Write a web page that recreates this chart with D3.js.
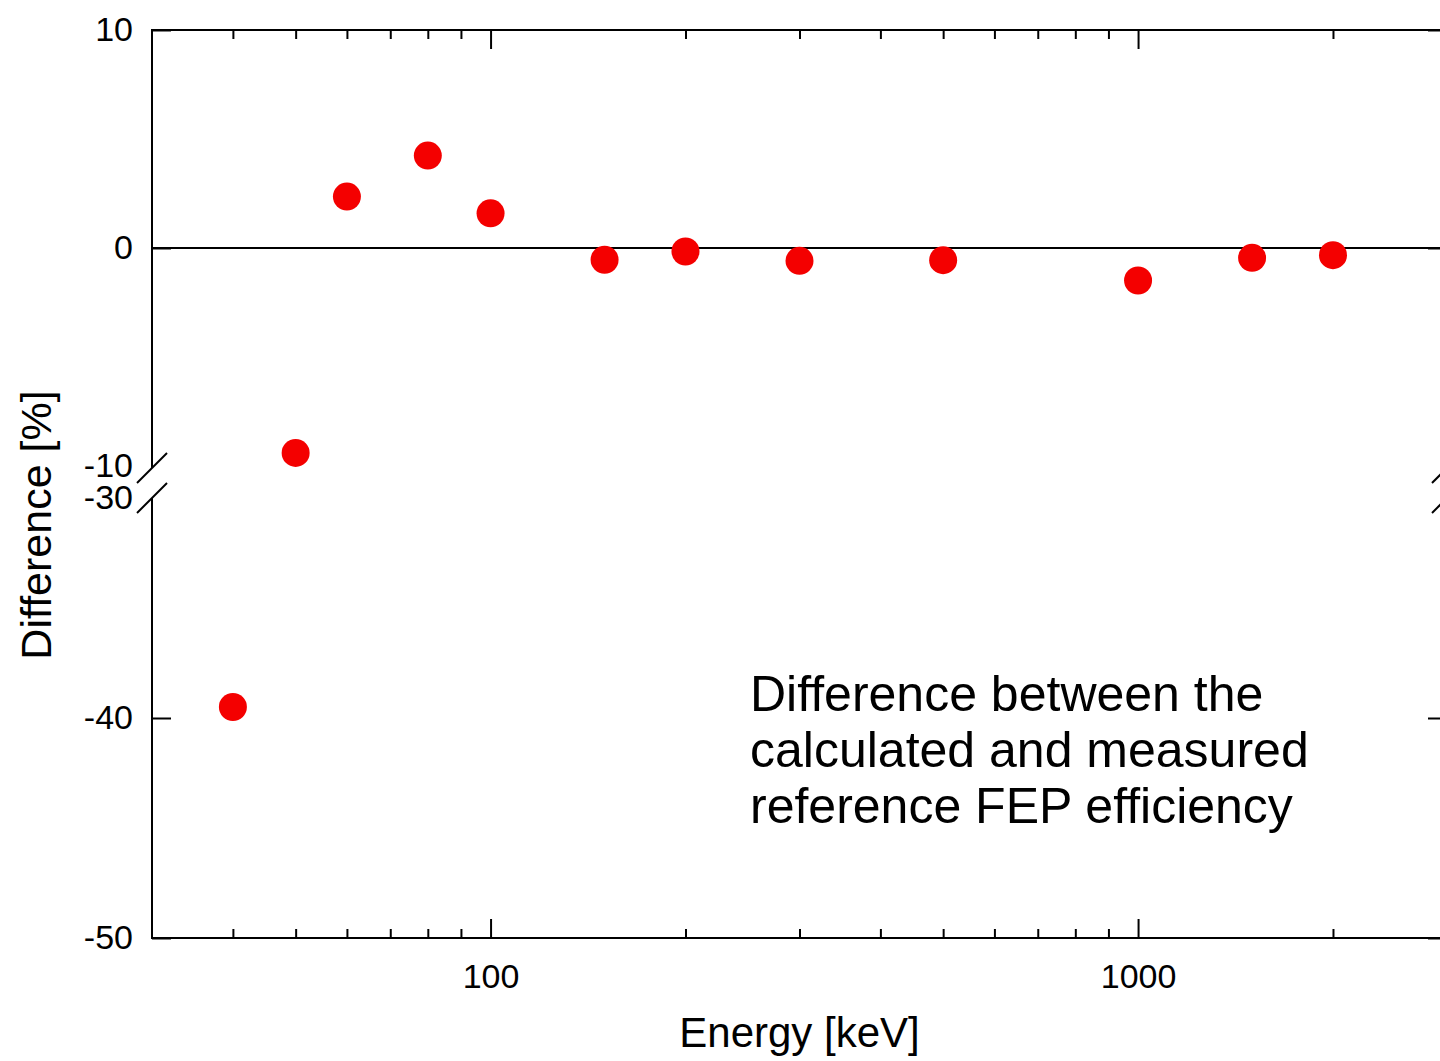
<!DOCTYPE html>
<html>
<head>
<meta charset="utf-8">
<script src="https://cdn.jsdelivr.net/npm/d3@7"></script>
<style>
  body { margin: 0; background: #fff; overflow: hidden; }
  svg { display: block; font-family: "Liberation Sans", Arial, sans-serif; }
  .axis text { fill: #000; }
  .axis line { stroke: #000; stroke-width: 2; }
</style>
</head>
<body>
<script>
// data
var energy = [40, 50, 60, 80, 100, 150, 200, 300, 500, 1000, 1500, 2000];
var difference = [-39.5, -9.4, 2.36, 4.24, 1.59, -0.54, -0.16, -0.59, -0.56, -1.49, -0.45, -0.33];
var upperTicks = [10, 0, -10];
var lowerTicks = [-30, -40, -50];
var majorX = [100, 1000];
var annotation = ['Difference between the', 'calculated and measured', 'reference FEP efficiency'];

(function () {
    var W = 1440, H = 1061;
    var pLeft = 152, pRight = 1447, pTop = 30, pBottom = 938;
    var breakHi = 468, breakLo = 498;
    var fmt = function (d) { return String(d); };

    var svg = d3.select('body').append('svg')
        .attr('width', W)
        .attr('height', H);

    var x = d3.scaleLog().domain([30, 3000]).range([pLeft, pRight]);
    var yUp = d3.scaleLinear().domain([-10, 10]).range([466, pTop]);
    var yLow = d3.scaleLinear().domain([-50, -30]).range([pBottom, breakLo]);

    var minorX = x.ticks().filter(function (t) {
        return majorX.indexOf(t) < 0 && t > 30 && t < 3000;
    });

    function noDomain(g) { g.select('.domain').remove(); }
    // no tick marks where the axis is broken
    function noBreakTicks(g) {
        g.selectAll('.tick')
            .filter(function (d) { return d === -10 || d === -30; })
            .select('line').remove();
    }

    // x axes (bottom with labels, top mirrored)
    svg.append('g').attr('class', 'axis')
        .attr('transform', 'translate(0,' + pBottom + ')')
        .call(d3.axisBottom(x).tickValues(majorX).tickSize(-19).tickPadding(26).tickFormat(fmt))
        .call(noDomain);
    svg.append('g').attr('class', 'axis')
        .attr('transform', 'translate(0,' + pBottom + ')')
        .call(d3.axisBottom(x).tickValues(minorX).tickSize(-9).tickFormat(''))
        .call(noDomain);
    svg.append('g').attr('class', 'axis')
        .attr('transform', 'translate(0,' + pTop + ')')
        .call(d3.axisTop(x).tickValues(majorX).tickSize(-19).tickFormat(''))
        .call(noDomain);
    svg.append('g').attr('class', 'axis')
        .attr('transform', 'translate(0,' + pTop + ')')
        .call(d3.axisTop(x).tickValues(minorX).tickSize(-9).tickFormat(''))
        .call(noDomain);

    // y axes, two segments
    [[yUp, upperTicks], [yLow, lowerTicks]].forEach(function (s) {
        svg.append('g').attr('class', 'axis')
            .attr('transform', 'translate(' + pLeft + ',0)')
            .call(d3.axisLeft(s[0]).tickValues(s[1]).tickSize(-19).tickPadding(19).tickFormat(fmt))
            .call(noDomain)
            .call(noBreakTicks);
        svg.append('g').attr('class', 'axis')
            .attr('transform', 'translate(' + pRight + ',0)')
            .call(d3.axisRight(s[0]).tickValues(s[1]).tickSize(-19).tickFormat(''))
            .call(noDomain)
            .call(noBreakTicks);
    });
    svg.selectAll('.axis').attr('font-size', 34).attr('font-family', null);

    // frame lines
    var frame = svg.append('g').attr('stroke', '#000').attr('stroke-width', 2).attr('fill', 'none');
    frame.append('path').attr('d',
        'M' + pLeft + ',' + breakHi + 'V' + pTop + 'H' + pRight + 'V' + breakHi +
        'M' + pLeft + ',' + breakLo + 'V' + pBottom + 'H' + pRight + 'V' + breakLo);
    [pLeft, pRight].forEach(function (bx) {
        [breakHi, breakLo].forEach(function (by) {
            frame.append('line')
                .attr('x1', bx - 15).attr('y1', by + 15)
                .attr('x2', bx + 15).attr('y2', by - 15);
        });
    });

    // zero line
    svg.append('line')
        .attr('x1', pLeft).attr('x2', pRight)
        .attr('y1', yUp(0)).attr('y2', yUp(0))
        .attr('stroke', '#000').attr('stroke-width', 2);

    // points
    svg.append('g').selectAll('circle')
        .data(energy)
        .enter()
        .append('circle')
        .attr('cx', function (d) { return x(d); })
        .attr('cy', function (d, i) {
            var v = difference[i];
            return v >= -10 ? yUp(v) : yLow(v);
        })
        .attr('r', 14)
        .attr('fill', '#f40000');

    // titles
    svg.append('text')
        .attr('x', (pLeft + pRight) / 2).attr('y', 1047)
        .attr('text-anchor', 'middle')
        .attr('font-size', 42)
        .text('Energy [keV]');
    svg.append('text')
        .attr('transform', 'translate(51,525) rotate(-90)')
        .attr('text-anchor', 'middle')
        .attr('font-size', 43)
        .text('Difference [%]');

    svg.append('g').selectAll('text')
        .data(annotation)
        .enter()
        .append('text')
        .attr('x', 750)
        .attr('y', function (d, i) { return 711 + i * 56; })
        .attr('font-size', 50)
        .text(function (d) { return d; });
})();
</script>
</body>
</html>
